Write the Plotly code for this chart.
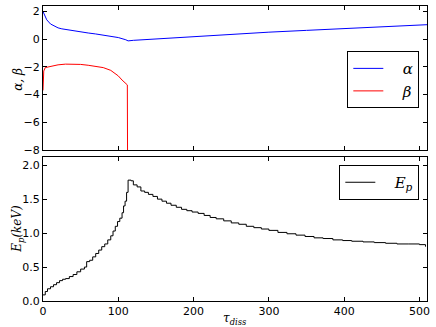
import plotly.graph_objects as go
from plotly.subplots import make_subplots

# alpha / beta spectral indices vs tau_diss
tau_alpha = [0, 2, 5, 10, 15, 20, 25, 30, 40, 50, 60, 70, 80, 90, 100, 110, 113,
             120, 150, 200, 250, 300, 350, 400, 450, 510]
alpha = [2.0, 1.7, 1.4, 1.1, 0.95, 0.82, 0.75, 0.7, 0.62, 0.52, 0.45, 0.38, 0.3,
         0.2, 0.12, -0.04, -0.12, -0.08, 0.02, 0.22, 0.37, 0.51, 0.64, 0.77, 0.9, 1.05]

tau_beta = [0, 1, 3, 10, 20, 30, 40, 50, 60, 70, 80, 90, 95, 100, 105, 108, 111, 112, 112.5]
beta = [-3.7, -2.3, -2.05, -1.95, -1.85, -1.8, -1.8, -1.82, -1.88, -1.95, -2.05,
        -2.25, -2.45, -2.65, -2.95, -3.1, -3.25, -3.3, -12]

# peak energy (keV)
tau_ep = [0, 3, 6, 10, 14, 18, 22, 26, 30, 35, 40, 45, 50, 55, 58, 62, 66, 70, 74, 78,
          82, 86, 90, 93, 96, 99, 102, 105, 107, 109, 111, 113, 117, 120, 125, 130, 135,
          140, 146, 152, 158, 164, 170, 177, 184, 191, 198, 206, 214, 222, 230, 240, 250,
          260, 270, 280, 290, 300, 312, 324, 336, 348, 360, 372, 385, 398, 410, 425, 440,
          455, 470, 485, 500, 508]
ep = [0.09, 0.14, 0.18, 0.21, 0.24, 0.27, 0.3, 0.32, 0.33, 0.36, 0.39, 0.43, 0.47, 0.5,
      0.58, 0.6, 0.65, 0.7, 0.75, 0.8, 0.84, 0.9, 0.96, 1.03, 1.1, 1.17, 1.22, 1.3, 1.4,
      1.47, 1.6, 1.78, 1.77, 1.71, 1.68, 1.62, 1.6, 1.57, 1.54, 1.5, 1.47, 1.44, 1.41,
      1.38, 1.35, 1.33, 1.31, 1.29, 1.26, 1.23, 1.21, 1.18, 1.15, 1.13, 1.1, 1.08, 1.06,
      1.04, 1.01, 0.99, 0.97, 0.95, 0.93, 0.92, 0.9, 0.89, 0.88, 0.87, 0.86, 0.85, 0.84,
      0.84, 0.83, 0.8]

fig = make_subplots(rows=2, cols=1, shared_xaxes=False, vertical_spacing=0.024)

fig.add_trace(go.Scatter(x=tau_alpha, y=alpha, mode="lines", name="   <i>α</i>",
                         line=dict(color="#0000ff", width=1), legend="legend"), row=1, col=1)
fig.add_trace(go.Scatter(x=tau_beta, y=beta, mode="lines", name="   <i>β</i>",
                         line=dict(color="#ff0000", width=1), legend="legend"), row=1, col=1)
fig.add_trace(go.Scatter(x=tau_ep, y=ep, mode="lines", name="   <i>E<sub>p</sub></i>",
                         line=dict(color="black", width=1, shape="hv"), legend="legend2"),
              row=2, col=1)

axis_style = dict(showline=True, linecolor="black", linewidth=1, mirror="ticks",
                  ticks="inside", ticklen=4, tickcolor="black", showgrid=False,
                  zeroline=False, automargin=False,
                  tickfont=dict(family="DejaVu Sans", size=11, color="black"))

fig.update_xaxes(range=[0, 510], tickvals=[0, 100, 200, 300, 400, 500], **axis_style)
fig.update_xaxes(showticklabels=False, row=1, col=1)
fig.update_yaxes(**axis_style)
fig.update_yaxes(range=[-8, 2.4], tickvals=[-8, -6, -4, -2, 0, 2], row=1, col=1)
fig.update_yaxes(range=[0, 2.12], tickvals=[0, 0.5, 1.0, 1.5, 2.0], tickformat=".1f",
                 row=2, col=1)

title_font = dict(family="DejaVu Serif", size=12, color="black")
fig.add_annotation(text="<i>τ<sub>diss</sub></i>", xref="paper", yref="paper",
                   x=0.5, y=-0.062, xanchor="center", yanchor="middle",
                   showarrow=False, font=title_font)
fig.add_annotation(text="<i>α, β</i>", xref="paper", yref="paper",
                   x=-0.065, y=0.75, xanchor="center", yanchor="middle", textangle=-90,
                   showarrow=False, font=title_font)
fig.add_annotation(text="<i>E<sub>p</sub>(keV)</i>", xref="paper", yref="paper",
                   x=-0.065, y=0.245, xanchor="center", yanchor="middle", textangle=-90,
                   showarrow=False, font=title_font)

fig.update_layout(
    width=436, height=327,
    margin=dict(l=43, r=9, t=6, b=26),
    plot_bgcolor="white", paper_bgcolor="white",
    showlegend=True,
    legend=dict(x=0.98, y=0.847, xanchor="right", yanchor="top",
                bordercolor="black", borderwidth=1, bgcolor="white",
                font=dict(family="DejaVu Serif", size=15, color="black")),
    legend2=dict(x=0.98, y=0.461, xanchor="right", yanchor="top",
                 bordercolor="black", borderwidth=1, bgcolor="white",
                 font=dict(family="DejaVu Serif", size=15, color="black")),
)

# page body has a default 8px margin; drop it so the figure sits at the window origin
fig.write_html("out.html", config={"displayModeBar": False},
               post_script="document.body.style.margin='0';")
